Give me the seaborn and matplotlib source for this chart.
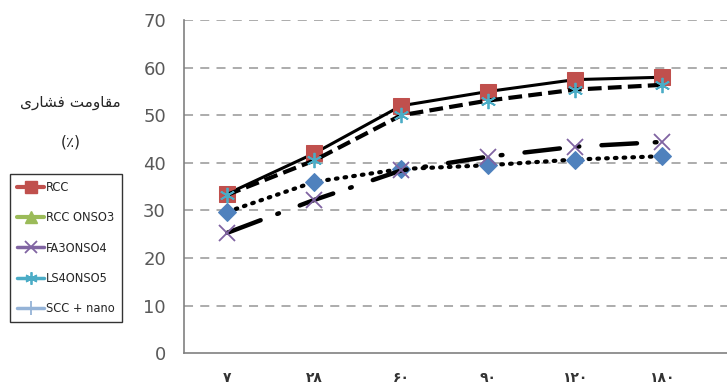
import numpy as np
import pandas as pd
import matplotlib
matplotlib.use('Agg')
import matplotlib.pyplot as plt
from matplotlib.lines import Line2D
import seaborn as sns

# data
dias = ['۷', '۲۸', '۶۰', '۹۰', '۱۲۰', '۱۸۰']
rcc = [33.5, 42.0, 52.0, 55.0, 57.5, 58.0]
diamantes = [29.7, 36.0, 38.7, 39.5, 40.7, 41.4]
fa30 = [25.3, 32.2, 38.4, 41.3, 43.4, 44.4]
ls40 = [33.3, 40.5, 50.0, 53.1, 55.4, 56.4]
nomes_legenda = ['RCC', 'RCC ONSO3', 'FA3ONSO4', 'LS4ONSO5', 'SCC + nano']

sns.set_style('white')
plt.rcParams['font.family'] = ['DejaVu Sans']

fig = plt.figure(figsize=(7.27, 3.88), dpi=100)
ax = fig.add_axes([0.253, 0.090, 0.747, 0.858])

pos = np.arange(len(dias))
df = pd.DataFrame({'x': pos, 'rcc': rcc, 'dia': diamantes, 'fa': fa30, 'ls': ls40})

sns.lineplot(data=df, x='x', y='rcc', ax=ax, color='black', lw=2.2,
             marker='s', markersize=11, markerfacecolor='#c0504d',
             markeredgecolor='#c0504d', zorder=3)
sns.lineplot(data=df, x='x', y='dia', ax=ax, color='black', lw=3,
             linestyle=(0, (0.4, 1.7)), dash_capstyle='round',
             marker='D', markersize=9, markerfacecolor='#4f81bd',
             markeredgecolor='#4f81bd', zorder=3)
sns.lineplot(data=df, x='x', y='fa', ax=ax, color='black', lw=3.2,
             linestyle=(0, (8, 4, 0.4, 5)), dash_capstyle='round',
             marker='x', markersize=11, markeredgewidth=1.3,
             markeredgecolor='#8064a2', zorder=3)
sns.lineplot(data=df, x='x', y='ls', ax=ax, color='black', lw=3,
             linestyle=(0, (3.3, 1.5)),
             marker=(6, 2, 0), markersize=11, markeredgewidth=1.3,
             markeredgecolor='#4bacc6', zorder=3)

ax.set_xlim(-0.5, 5.75)
ax.set_ylim(0, 70)
ax.set_yticks(range(0, 71, 10))
ax.set_xticks(pos)
ax.set_xticklabels(dias, fontsize=10, fontweight='bold', color='#333333')
ax.tick_params(axis='y', labelsize=13, colors='#595959', length=0, pad=13)
ax.tick_params(axis='x', length=0, pad=13)
ax.set_xlabel('')
ax.set_ylabel('')

for v in range(10, 71, 10):
    ax.axhline(v, color='#a6a6a6', lw=1.3, linestyle=(0, (5, 4)), zorder=1)

for s in ['top', 'right']:
    ax.spines[s].set_visible(False)
for s in ['left', 'bottom']:
    ax.spines[s].set_color('#808080')
    ax.spines[s].set_linewidth(1.2)

# persian label in presentation forms, visual order
rotulo = '\ufbfc\ufead\ufe8e\ufeb8\ufed3 \ufe96\ufee3\ufeed\ufe8e\ufed8\ufee3'
fig.text(0.097, 0.735, rotulo, ha='center', va='center', fontsize=11)
fig.text(0.097, 0.634, '(٪)', ha='center', va='center', fontsize=11)

handles = [
    Line2D([], [], color='#c0504d', lw=3, marker='s', markersize=8),
    Line2D([], [], color='#9bbb59', lw=3, marker='^', markersize=8),
    Line2D([], [], color='#8064a2', lw=2.5, marker='x', markersize=9, markeredgewidth=1.3),
    Line2D([], [], color='#4bacc6', lw=2.5, marker=(6, 2, 0), markersize=9, markeredgewidth=1.3),
    Line2D([], [], color='#95b3d7', lw=2.5, marker='+', markersize=10, markeredgewidth=1.3),
]
leg = fig.legend(handles, nomes_legenda, loc='upper left',
                 bbox_to_anchor=(0.014, 0.551), frameon=True, fancybox=False,
                 handlelength=2.1, handletextpad=0.15, labelspacing=1.35,
                 borderpad=0.55, borderaxespad=0,
                 prop={'family': 'DejaVu Sans', 'stretch': 'condensed', 'size': 9.2})
leg.get_frame().set_edgecolor('black')
leg.get_frame().set_linewidth(1)

fig.savefig('out.png', dpi=100)
